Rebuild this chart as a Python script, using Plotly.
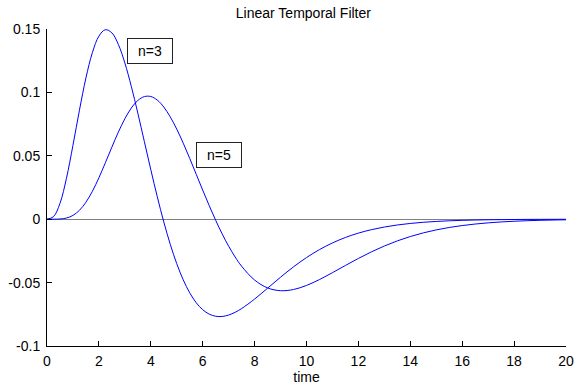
import plotly.graph_objects as go

t = [0, 0.25, 0.5, 0.75, 1, 1.25, 1.5, 1.75, 2, 2.25, 2.5, 2.75, 3, 3.25, 3.5, 3.75,
     4, 4.25, 4.5, 4.75, 5, 5.25, 5.5, 5.75, 6, 6.25, 6.5, 6.75, 7, 7.25, 7.5,
     8, 8.5, 9, 9.5, 10, 10.5, 11, 11.5, 12, 12.5, 13, 13.5, 14, 14.5, 15, 15.5,
     16, 16.5, 17, 17.5, 18, 18.5, 19, 19.5, 20]

n3_values = [0, 0.0020219, 0.012478, 0.032280, 0.058248, 0.085978, 0.11139, 0.13145, 0.14436,
             0.14945, 0.14696, 0.13780, 0.12322, 0.10468, 0.08362, 0.061365, 0.039074, 0.017680,
             -0.002109, -0.019800, -0.035093, -0.047854, -0.058078, -0.065864, -0.071389,
             -0.074871, -0.076554, -0.076710, -0.075586, -0.073436, -0.070485,
             -0.062978, -0.054409, -0.045733, -0.037570, -0.030267, -0.023974, -0.018711,
             -0.014411, -0.010971, -0.0082644, -0.0061660, -0.0045609, -0.0033465, -0.0024377,
             -0.0017637, -0.0012681, -0.00090656, -0.00064454, -0.00045595, -0.00032101,
             -0.00022501, -0.00015707, -0.00010921, -0.000075646, -0.000052218]

n5_values = [0, 0.0000063284, 0.00015701, 0.00092159, 0.0029927, 0.0070151, 0.013364, 0.022034,
             0.032653, 0.044544, 0.056860, 0.068700, 0.079214, 0.087695, 0.093618, 0.096674,
             0.096755, 0.093937, 0.088464, 0.080682, 0.071022, 0.059958, 0.047951, 0.035477,
             0.022947, 0.010730, -0.00086524, -0.011598, -0.021286, -0.029811, -0.037109,
             -0.047983, -0.054186, -0.056389, -0.055448, -0.052245, -0.047591,
             -0.042164, -0.036485, -0.030941, -0.025781, -0.021148, -0.017107, -0.013665,
             -0.010792, -0.0084344, -0.0065296, -0.0050107, -0.0038136, -0.0028807,
             -0.0021608, -0.0016102, -0.0011925, -0.00087808, -0.00064304, -0.00046852]

x_ticks = [0, 2, 4, 6, 8, 10, 12, 14, 16, 18, 20]
y_ticks = [-0.1, -0.05, 0, 0.05, 0.1, 0.15]
y_tick_labels = ["-0.1", "-0.05", "0", "0.05", "0.1", "0.15"]

labels = ["n=3", "n=5"]
label_x = [3.95, 6.63]
label_y = [0.133, 0.0503]

FONT = "Liberation Sans, Arial, Helvetica"

fig = go.Figure()
for vals in (n3_values, n5_values):
    fig.add_trace(go.Scatter(x=t, y=vals, mode="lines", line=dict(color="#0000ff", width=1, shape="spline"),
                             showlegend=False, hoverinfo="skip", cliponaxis=False))

for txt, ax_, ay_ in zip(labels, label_x, label_y):
    fig.add_annotation(x=ax_, y=ay_, text=txt, showarrow=False, bordercolor="#222222", borderwidth=1,
                       borderpad=3, bgcolor="white", width=38, height=18,
                       font=dict(family=FONT, size=14, color="black"))

fig.update_layout(
    width=574, height=387,
    margin=dict(l=47, r=8, t=29, b=41, autoexpand=False),
    paper_bgcolor="white", plot_bgcolor="white",
    title=dict(text="Linear Temporal Filter", x=0.494, xref="paper", xanchor="center",
               y=1 - 13 / 387, yref="container", yanchor="middle",
               font=dict(family=FONT, size=14, color="black")),
    font=dict(family=FONT, size=14, color="black"),
    xaxis=dict(range=[0, 20], tickvals=x_ticks, ticks="inside", ticklen=5, tickcolor="black",
               showline=True, linecolor="black", linewidth=1, showgrid=False, zeroline=False,
               automargin=False, ticklabelstandoff=2,
               title=dict(text="time", font=dict(size=14), standoff=2)),
    yaxis=dict(range=[-0.1, 0.15], tickvals=y_ticks, ticktext=y_tick_labels, ticks="inside", ticklen=5,
               tickcolor="black", showline=True, linecolor="black", linewidth=1, showgrid=False,
               automargin=False, ticklabelstandoff=3,
               zeroline=True, zerolinecolor="#808080", zerolinewidth=1),
)

fig.write_html("out.html", config={"displayModeBar": False},
               post_script="document.body.style.margin='0px';")
